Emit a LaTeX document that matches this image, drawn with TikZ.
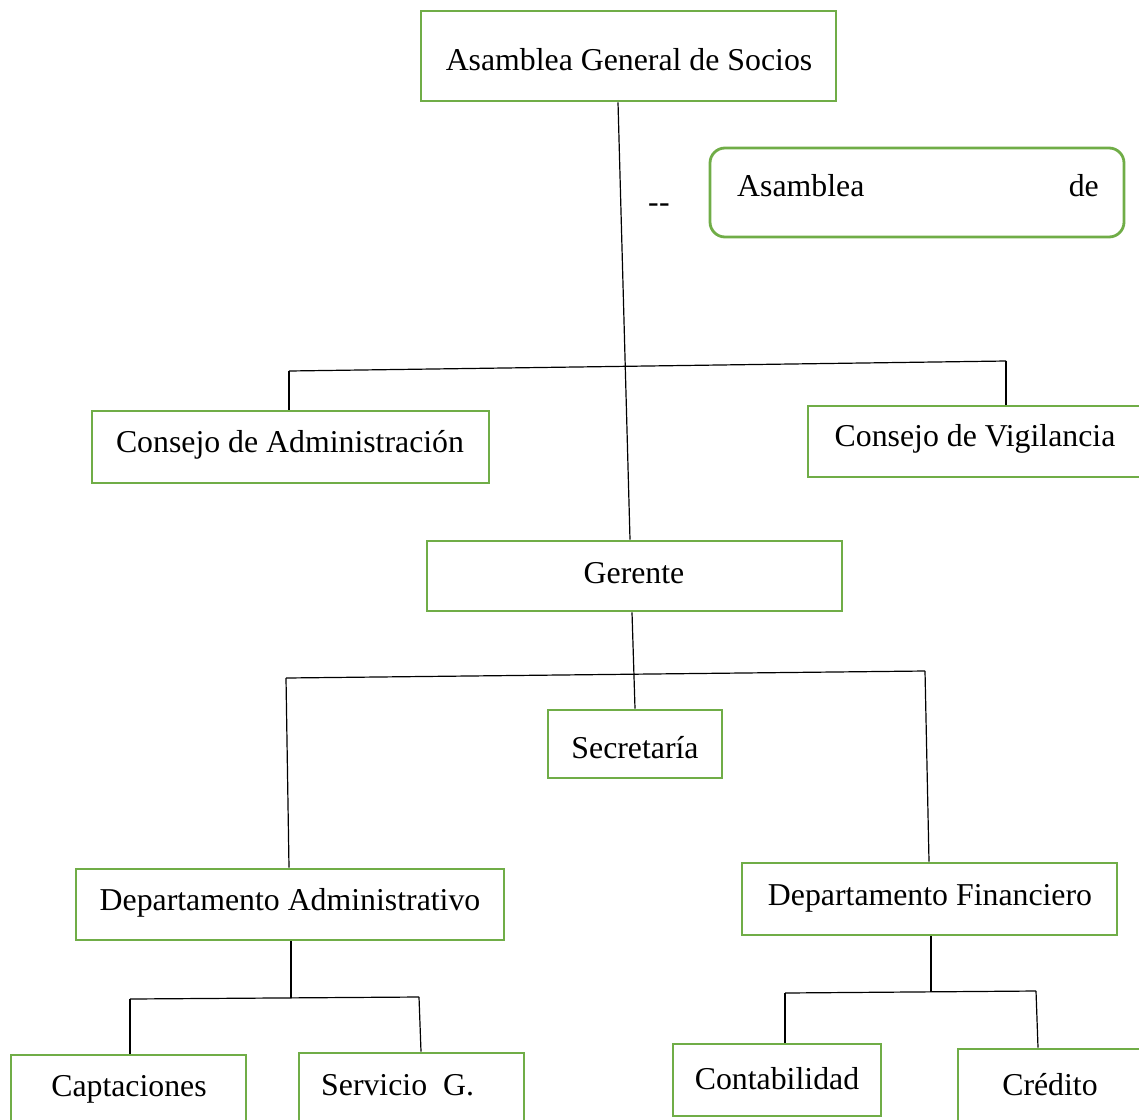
\documentclass[tikz,border=0pt]{standalone}
\usepackage{fontspec}
\setmainfont{Liberation Serif}
\definecolor{boxgreen}{HTML}{70AD47}
\begin{document}
\begin{tikzpicture}[x=1pt,y=-1pt,
  box/.style={draw=boxgreen,line width=2.8pt,inner sep=0pt},
  rbox/.style={box,rounded corners=15pt},
  lbl/.style={inner sep=0pt,font=\fontsize{31.8}{38}\selectfont,yshift=-3pt},
  link/.style={draw=black,line width=1.2pt}]
\useasboundingbox (0,0) rectangle (1139,1119);

% boxes
\node[box,minimum width=415pt,minimum height=90pt] (asm) at (628.5,56) {};
\node[rbox,minimum width=414pt,minimum height=89pt] (aso) at (917,192.5) {};
\node[box,minimum width=397pt,minimum height=72pt] (cadm) at (290.5,447) {};
\node[box,minimum width=342pt,minimum height=71pt] (cvig) at (979,441.5) {};
\node[box,minimum width=415pt,minimum height=70pt] (ger) at (634.5,576) {};
\node[box,minimum width=174pt,minimum height=68pt] (sec) at (635,744) {};
\node[box,minimum width=428pt,minimum height=71pt] (dadm) at (290,904.5) {};
\node[box,minimum width=375pt,minimum height=72pt] (dfin) at (929.5,899) {};
\node[box,minimum width=235pt,minimum height=95pt] (capt) at (128.5,1102.5) {};
\node[box,minimum width=225pt,minimum height=97pt] (serv) at (411.5,1101.5) {};
\node[box,minimum width=208pt,minimum height=72pt] (cont) at (777,1080) {};
\node[box,minimum width=192pt,minimum height=101pt] (cred) at (1054,1099.5) {};

% texts
\node[lbl] (asmT) at (629,57) {Asamblea General de Socios};
\node[lbl,anchor=west] (asoA) at (737,183) {Asamblea};
\node[lbl,anchor=east] (asoB) at (1099,183) {de};
\node[lbl] (dash) at (659,205) {-\kern0.5pt-};
\node[lbl] (cadmT) at (290,442) {Consejo de Administración};
\node[lbl] (cvigT) at (975,436) {Consejo de Vigilancia};
\node[lbl] (gerT) at (634,570) {Gerente};
\node[lbl] (secT) at (635,745) {Secretaría};
\node[lbl] (dadmT) at (290,900) {Departamento Administrativo};
\node[lbl] (dfinT) at (930,895) {Departamento Financiero};
\node[lbl] (captT) at (129,1086) {Captaciones};
\node[lbl,anchor=west] (servT) at (321,1082) {Servicio\ \ G.};
\node[lbl] (contT) at (777,1076) {Contabilidad};
\node[lbl] (credT) at (1050,1082) {Crédito};

% junction points
\coordinate (j1L) at (289,371);
\coordinate (j1R) at (1006,361);
\coordinate (j2L) at (286,678);
\coordinate (j2R) at (925,671);
\coordinate (j3)  at (291,998);
\coordinate (j3L) at (130,999);
\coordinate (j3R) at (419,997);
\coordinate (j4)  at (931,992);
\coordinate (j4L) at (785,993);
\coordinate (j4R) at (1036,991);

% connectors
\draw[link] ([xshift=-10.5pt]asm.south) -- ([xshift=-4.5pt]ger.north);
\draw[link] (j1L) -- (j1R);
\draw[link] (j1L) -- ([xshift=-1.5pt]cadm.north);
\draw[link] (j1R) -- ([xshift=27pt]cvig.north);

\draw[link] ([xshift=-2.5pt]ger.south) -- (sec.north);
\draw[link] (j2L) -- (j2R);
\draw[link] (j2L) -- ([xshift=-1pt]dadm.north);
\draw[link] (j2R) -- ([xshift=-0.5pt]dfin.north);

\draw[link] ([xshift=1pt]dadm.south) -- (j3);
\draw[link] (j3L) -- (j3R);
\draw[link] (j3L) -- ([xshift=1.5pt]capt.north);
\draw[link] (j3R) -- ([xshift=9.5pt]serv.north);

\draw[link] ([xshift=1.5pt]dfin.south) -- (j4);
\draw[link] (j4L) -- (j4R);
\draw[link] (j4L) -- ([xshift=8pt]cont.north);
\draw[link] (j4R) -- ([xshift=-16pt]cred.north);
\end{tikzpicture}
\end{document}
